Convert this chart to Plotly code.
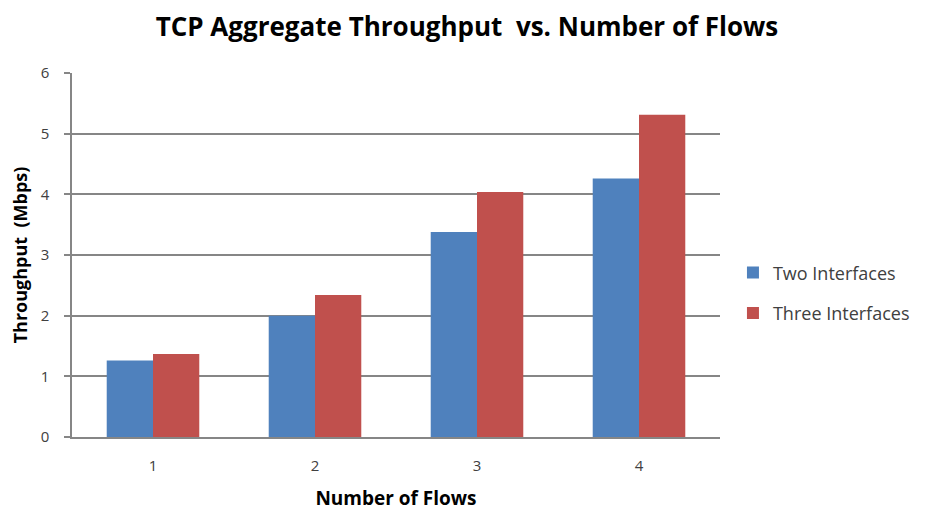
import plotly.graph_objects as go

categories = ["1", "2", "3", "4"]
two_interfaces = [1.26, 2.0, 3.38, 4.26]
three_interfaces = [1.37, 2.34, 4.04, 5.31]
y_ticks = [0, 1, 2, 3, 4, 5, 6]

FONT = "Open Sans, Liberation Sans, sans-serif"

fig = go.Figure()
fig.add_trace(go.Bar(x=categories, y=two_interfaces, name="Two Interfaces",
                     marker=dict(color="#4F81BD", line=dict(width=0)),
                     legendgroup="a"))
fig.add_trace(go.Bar(x=categories, y=three_interfaces, name="Three Interfaces",
                     marker=dict(color="#C0504D", line=dict(width=0)),
                     legendgroup="b"))

fig.update_layout(
    width=928, height=514,
    margin=dict(l=64, r=216, t=65, b=85),
    paper_bgcolor="white", plot_bgcolor="white",
    barmode="group", bargap=0.4286, bargroupgap=0,
    font=dict(family=FONT, size=15, color="#404040"),
    title=dict(text="<b>TCP Aggregate Throughput  vs. Number of Flows</b>",
               x=0.4946, xref="container", xanchor="center", y=0.963, yanchor="middle",
               font=dict(family=FONT, size=26, color="black")),
    showlegend=True,
    legend=dict(x=1.02, xanchor="left", y=0.396, yanchor="middle",
                font=dict(family=FONT, size=18, color="#404040"),
                tracegroupgap=14, traceorder="grouped", itemwidth=30,
                bgcolor="rgba(0,0,0,0)"),
    xaxis=dict(
        type="category",
        showline=True, linecolor="#868686", linewidth=1.5,
        ticks="", showgrid=False, ticklabelstandoff=14,
        tickfont=dict(family=FONT, size=15, color="#404040"),
        title=dict(text="<b>Number of Flows</b>", standoff=18,
                   font=dict(family=FONT, size=19, color="black")),
    ),
    yaxis=dict(
        range=[0, 6], tickvals=y_ticks,
        showline=True, linecolor="#868686", linewidth=1.5,
        ticks="outside", ticklen=6, tickcolor="#868686", tickwidth=1.5,
        ticklabelstandoff=12,
        showgrid=True, gridcolor="#868686", gridwidth=1.5,
        zeroline=False,
        tickfont=dict(family=FONT, size=15, color="#404040"),
        title=dict(text="<b>Throughput  (Mbps)</b>", standoff=8,
                   font=dict(family=FONT, size=18, color="black")),
    ),
)

fig.write_html("out.html")
